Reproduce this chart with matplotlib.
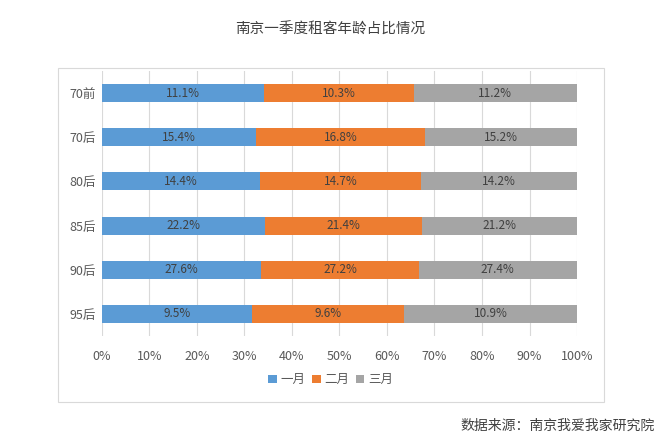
import numpy as np
import matplotlib.pyplot as plt
from matplotlib.patches import Rectangle

plt.rcParams['font.family'] = ['Noto Sans CJK SC', 'DejaVu Sans']

categories = ["70前", "70后", "80后", "85后", "90后", "95后"]
series_names = ["一月", "二月", "三月"]
jan = [11.1, 15.4, 14.4, 22.2, 27.6, 9.5]
feb = [10.3, 16.8, 14.7, 21.4, 27.2, 9.6]
mar = [11.2, 15.2, 14.2, 21.2, 27.4, 10.9]
colors = ["#5B9BD5", "#ED7D31", "#A5A5A5"]

fig = plt.figure(figsize=(6.61, 4.48), dpi=100)
fig.patch.set_facecolor("white")

# chart border box
fig.patches.append(Rectangle((0.0877, 0.1027), 0.826, 0.7455, transform=fig.transFigure,
                             fill=False, edgecolor="#D9D9D9", linewidth=0.8))

ax = fig.add_axes([0.154, 0.25, 0.719, 0.5915])

data = np.array([jan, feb, mar])
totals = data.sum(axis=0)
shares = data / totals
y = np.arange(len(categories))
left = np.zeros(len(categories))
for i, name in enumerate(series_names):
    bars = ax.barh(y, shares[i], left=left, height=0.41, color=colors[i], label=name, zorder=3)
    for j, b in enumerate(bars):
        ax.text(left[j] + shares[i][j] / 2, y[j], f"{data[i][j]:.1f}%", ha="center", va="center",
                fontsize=8.5, color="#404040", zorder=4)
    left += shares[i]

ax.set_ylim(len(categories) - 0.5, -0.5)
ax.set_xlim(0, 1)
ax.set_yticks(y)
ax.set_yticklabels(categories)
ax.set_xticks(np.linspace(0, 1, 11))
ax.set_xticklabels([f"{int(v)}%" for v in np.linspace(0, 100, 11)])
ax.tick_params(axis="both", length=0, labelsize=9, labelcolor="#595959")
ax.tick_params(axis="x", pad=10)
ax.tick_params(axis="y", pad=4)
ax.grid(axis="x", color="#D9D9D9", linewidth=0.8, zorder=0)
for s in ax.spines.values():
    s.set_visible(False)

fig.text(0.5, 0.933, "南京一季度租客年龄占比情况", ha="center", va="center", fontsize=10.5, color="#404040")

leg = fig.legend(loc="center", bbox_to_anchor=(0.5, 0.152), ncol=3, frameon=False, fontsize=9,
                 handlelength=0.7, handleheight=0.7, handletextpad=0.3, columnspacing=0.5)
for t in leg.get_texts():
    t.set_color("#595959")

fig.text(0.99, 0.05, "数据来源：南京我爱我家研究院", ha="right", va="center", fontsize=10, color="#404040")

fig.savefig("out.png", dpi=100)
